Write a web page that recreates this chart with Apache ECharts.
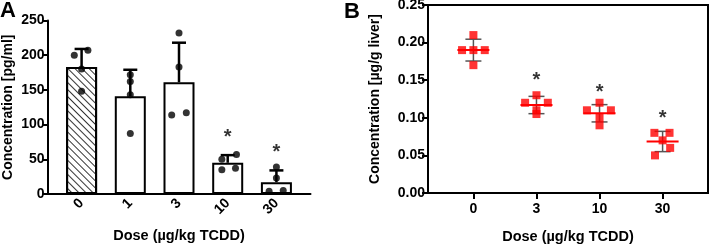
<!DOCTYPE html>
<html>
<head>
<meta charset="utf-8">
<script src="https://cdn.jsdelivr.net/npm/echarts@6/dist/echarts.min.js"></script>
<style>
  html, body { margin: 0; padding: 0; background: #fff; }
  #chart { width: 711px; height: 244px; }
</style>
</head>
<body>
<div id="chart"></div>
<script>
// ---- Panel A: serum concentration (bars, mean + SD, single dots)
const doseA = ["0", "1", "3", "10", "30"];
const meanA = [183, 141, 161, 45, 17];
const sdA = [26, 38, 57, 11, 17];
const dotsA = [
  [200, 207, 180, 148],
  [172, 162, 143, 87],
  [232, 183, 114, 117],
  [50, 57, 35, 37],
  [39, 23, 4, 5]
];
const jitterA = [
  [-0.15, 0.13, 0, 0],
  [0, 0, 0, 0],
  [0, 0, -0.15, 0.15],
  [-0.12, 0.18, -0.12, 0.16],
  [0, 0, -0.15, 0.14]
];
const starA = [null, null, null, 82, 60];

// ---- Panel B: liver concentration (dots, mean line, SD)
const doseB = ["0", "3", "10", "30"];
const meanB = [0.19, 0.117, 0.106, 0.0685];
const sdB = [0.0145, 0.0115, 0.0115, 0.0135];
const dotsB = [
  [0.21, 0.19, 0.19, 0.19, 0.17],
  [0.13, 0.12, 0.12, 0.11, 0.105],
  [0.12, 0.11, 0.11, 0.10, 0.09],
  [0.08, 0.08, 0.07, 0.06, 0.05]
];
const jitterB = [
  [0, -0.18, 0, 0.18, 0],
  [0, -0.18, 0.18, 0, 0],
  [0, -0.2, 0.18, 0, 0],
  [-0.13, 0.11, 0, 0.12, -0.12]
];
const starB = [null, 0.149, 0.133, 0.099];

const FONT = "Liberation Sans, Arial, sans-serif";
const chart = echarts.init(document.getElementById("chart"));

const flatDots = (dots, jit) => {
  const out = [];
  dots.forEach((grp, i) => grp.forEach((v, k) => out.push([i + jit[i][k], v])));
  return out;
};

const axisText = { color: "#000", fontFamily: FONT, fontWeight: "bold", fontSize: 14 };

const option = {
  animation: false,
  textStyle: { fontFamily: FONT },
  title: [
    { text: "A", left: 0, top: 0, padding: 0, textStyle: { fontSize: 22, fontWeight: "bold", color: "#000", fontFamily: FONT } },
    { text: "B", left: 344, top: 1, padding: 0, textStyle: { fontSize: 22, fontWeight: "bold", color: "#000", fontFamily: FONT } }
  ],
  grid: [
    { left: 47.5, top: 20.5, width: 263, height: 173.5, outerBoundsMode: "none" },
    { left: 428, top: 5, width: 280, height: 188, outerBoundsMode: "none", show: true, borderColor: "#000", borderWidth: 2, backgroundColor: "transparent" }
  ],
  xAxis: [
    {
      gridIndex: 0, type: "value", min: -0.7, max: 4.7,
      splitLine: { show: false },
      axisLine: { onZero: false, lineStyle: { color: "#000", width: 2 } },
      axisTick: { show: false },
      axisLabel: Object.assign({}, axisText, {
        customValues: [0, 1, 2, 3, 4], rotate: 45, margin: 7,
        formatter: v => doseA[Math.round(v)]
      }),
      name: "Dose (\u00b5g/kg TCDD)", nameLocation: "middle", nameGap: 34,
      nameTextStyle: Object.assign({}, axisText, { fontSize: 14.5 })
    },
    {
      gridIndex: 1, type: "value", min: -0.72, max: 3.72,
      splitLine: { show: false },
      axisLine: { onZero: false, lineStyle: { color: "#000", width: 2 } },
      axisTick: { show: true, customValues: [0, 1, 2, 3], length: 6, lineStyle: { color: "#000", width: 2 } },
      axisLabel: Object.assign({}, axisText, {
        customValues: [0, 1, 2, 3], margin: 9,
        formatter: v => doseB[Math.round(v)]
      }),
      name: "Dose (\u00b5g/kg TCDD)", nameLocation: "middle", nameGap: 36,
      nameTextStyle: Object.assign({}, axisText, { fontSize: 14.5 })
    }
  ],
  yAxis: [
    {
      gridIndex: 0, type: "value", min: 0, max: 250, interval: 50,
      splitLine: { show: false },
      axisLine: { show: true, onZero: false, lineStyle: { color: "#000", width: 2 } },
      axisTick: { show: true, length: 5, lineStyle: { color: "#000", width: 2 } },
      axisLabel: Object.assign({}, axisText, { margin: 3 }),
      name: "Concentration [pg/ml]", nameLocation: "middle", nameGap: 32,
      nameTextStyle: Object.assign({}, axisText, { fontSize: 14 })
    },
    {
      gridIndex: 1, type: "value", min: 0, max: 0.25, interval: 0.05,
      splitLine: { show: false },
      axisLine: { show: true, onZero: false, lineStyle: { color: "#000", width: 2 } },
      axisTick: { show: true, length: 6, lineStyle: { color: "#000", width: 2 } },
      axisLabel: Object.assign({}, axisText, { margin: 3, formatter: v => v.toFixed(2) }),
      name: "Concentration [\u00b5g/g liver]", nameLocation: "middle", nameGap: 46,
      nameTextStyle: Object.assign({}, axisText, { fontSize: 14 })
    }
  ],
  series: [
    // A bars
    {
      type: "bar", xAxisIndex: 0, yAxisIndex: 0, barWidth: 31, z: 2,
      itemStyle: { color: "#fff", borderColor: "#000", borderWidth: 2 },
      data: meanA.map((m, i) => i === 0 ? {
        value: [i, m],
        itemStyle: {
          decal: { symbol: "rect", symbolSize: 1, dashArrayX: [1, 0], dashArrayY: [1, 3.2], rotation: Math.PI / 4, color: "#333" }
        }
      } : [i, m])
    },
    // A upper error bars
    {
      type: "custom", xAxisIndex: 0, yAxisIndex: 0, z: 3,
      data: meanA.map((m, i) => [i, m, sdA[i]]),
      renderItem: (params, api) => {
        const x = api.value(0), m = api.value(1), s = api.value(2);
        const p0 = api.coord([x, m]), p1 = api.coord([x, m + s]);
        const st = { stroke: "#000", lineWidth: 2.5 };
        return {
          type: "group",
          children: [
            { type: "line", shape: { x1: p0[0], y1: p0[1], x2: p1[0], y2: p1[1] }, style: st },
            { type: "line", shape: { x1: p1[0] - 7, y1: p1[1], x2: p1[0] + 7, y2: p1[1] }, style: st }
          ]
        };
      }
    },
    // A dots
    {
      type: "scatter", xAxisIndex: 0, yAxisIndex: 0, z: 4,
      symbol: "circle", symbolSize: 7,
      itemStyle: { color: "#000" },
      data: flatDots(dotsA, jitterA)
    },
    // A stars
    {
      type: "scatter", xAxisIndex: 0, yAxisIndex: 0, z: 5, symbolSize: 0.1,
      itemStyle: { color: "transparent" },
      label: { show: true, position: "inside", formatter: "*", color: "#000", fontSize: 20, fontWeight: "bold", fontFamily: FONT },
      data: starA.map((v, i) => v == null ? null : [i, v]).filter(d => d)
    },
    // B SD + mean
    {
      type: "custom", xAxisIndex: 1, yAxisIndex: 1, z: 3,
      data: meanB.map((m, i) => [i, m, sdB[i]]),
      renderItem: (params, api) => {
        const x = api.value(0), m = api.value(1), s = api.value(2);
        const pm = api.coord([x, m]), pt = api.coord([x, m + s]), pb = api.coord([x, m - s]);
        const st = { stroke: "#555", lineWidth: 1.5 };
        return {
          type: "group",
          children: [
            { type: "line", shape: { x1: pt[0], y1: pt[1], x2: pb[0], y2: pb[1] }, style: st },
            { type: "line", shape: { x1: pt[0] - 8, y1: pt[1], x2: pt[0] + 8, y2: pt[1] }, style: st },
            { type: "line", shape: { x1: pb[0] - 8, y1: pb[1], x2: pb[0] + 8, y2: pb[1] }, style: st },
            { type: "line", shape: { x1: pm[0] - 16, y1: pm[1], x2: pm[0] + 16, y2: pm[1] }, style: { stroke: "#ff0000", lineWidth: 2 } }
          ]
        };
      }
    },
    // B squares
    {
      type: "scatter", xAxisIndex: 1, yAxisIndex: 1, z: 4,
      symbol: "rect", symbolSize: 8,
      itemStyle: { color: "#ff0000" },
      data: flatDots(dotsB, jitterB)
    },
    // B stars
    {
      type: "scatter", xAxisIndex: 1, yAxisIndex: 1, z: 5, symbolSize: 0.1,
      itemStyle: { color: "transparent" },
      label: { show: true, position: "inside", formatter: "*", color: "#000", fontSize: 20, fontWeight: "bold", fontFamily: FONT },
      data: starB.map((v, i) => v == null ? null : [i, v]).filter(d => d)
    }
  ]
};

chart.setOption(option);
</script>
</body>
</html>
